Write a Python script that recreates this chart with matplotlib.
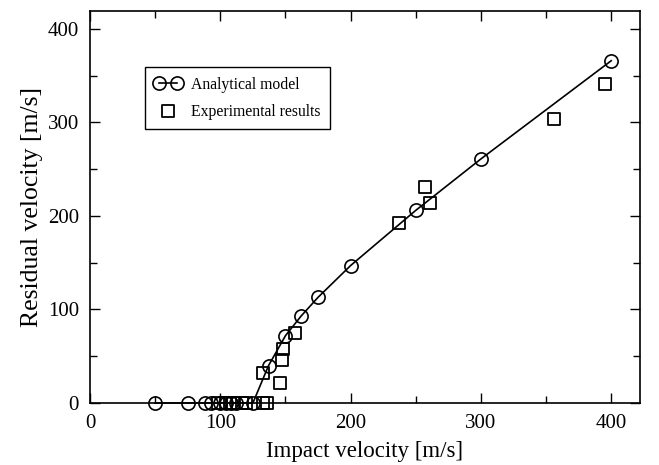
import matplotlib
matplotlib.use("Agg")
import matplotlib.pyplot as plt
from matplotlib.ticker import MultipleLocator

# Analytical model
model_x = [50, 75, 88, 93, 100, 104, 108, 112, 125, 137, 150, 162, 175, 200, 250, 300, 400]
model_y = [0, 0, 0, 0, 0, 0, 0, 0, 0, 40, 72, 93, 113, 147, 206, 261, 366]

# Experimental results
exp_x = [98, 104, 110, 117, 120, 133, 136, 133, 146, 147, 148, 157, 237, 257, 261, 356, 395]
exp_y = [0, 0, 0, 0, 0, 0, 0, 32, 21, 46, 58, 75, 192, 231, 214, 304, 341]

plt.rcParams['font.family'] = ['Liberation Serif', 'DejaVu Serif']

fig = plt.figure(figsize=(6.59, 4.65), dpi=100)
ax = fig.add_axes([0.1366, 0.1333, 0.8344, 0.8427])

ax.plot(model_x, model_y, color='black', lw=1.2, marker='o', ms=9.5,
        mfc='none', mec='black', mew=1.2, clip_on=False, zorder=3,
        label='Analytical model')
ax.scatter(exp_x, exp_y, marker='s', s=75, facecolors='none',
           edgecolors='black', linewidths=1.3, clip_on=False, zorder=4,
           label='Experimental results')

ax.set_xlim(0, 422)
ax.set_ylim(0, 419)
ax.xaxis.set_major_locator(MultipleLocator(100))
ax.xaxis.set_minor_locator(MultipleLocator(50))
ax.yaxis.set_major_locator(MultipleLocator(100))
ax.yaxis.set_minor_locator(MultipleLocator(50))
ax.tick_params(which='both', direction='in', top=True, right=True,
               labelsize=15, width=1.0)
ax.tick_params(which='major', length=7, pad=8)
ax.tick_params(which='minor', length=5)
for s in ax.spines.values():
    s.set_linewidth(1.2)

ax.set_xlabel('Impact velocity [m/s]', fontsize=16.5, labelpad=6)
ax.set_ylabel('Residual velocity [m/s]', fontsize=18.5, labelpad=3)

leg = ax.legend(loc='upper left', bbox_to_anchor=(0.1, 0.857), borderaxespad=0,
                numpoints=2, scatterpoints=1, fontsize=11.3, fancybox=False,
                edgecolor='black', framealpha=1, handlelength=1.7,
                borderpad=0.62, labelspacing=0.68, handletextpad=0.6)
leg.get_frame().set_linewidth(1.0)

fig.savefig('out.png', dpi=100)
